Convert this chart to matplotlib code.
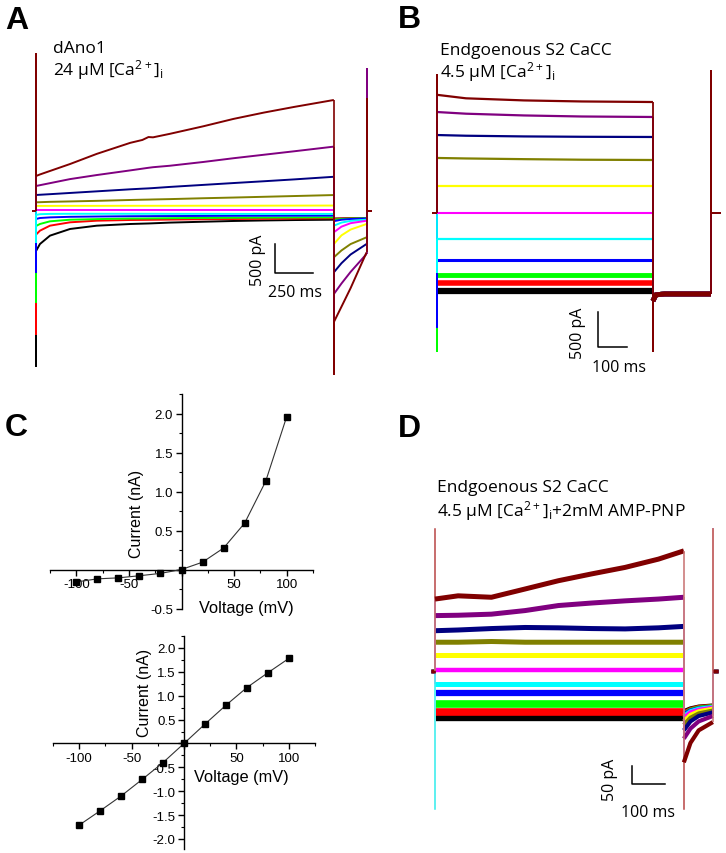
import matplotlib
matplotlib.use("Agg")
import matplotlib.pyplot as plt
from matplotlib.ticker import MultipleLocator, FixedLocator, FuncFormatter

plt.rcParams['mathtext.default'] = 'regular'

# ---------------- data ----------------
voltages = [-100, -80, -60, -40, -20, 0, 20, 40, 60, 80, 100]
trace_colors = ['#000000', '#ff0000', '#00ff00', '#0000ff', '#00ffff', '#ff00ff',
                '#ffff00', '#808000', '#000080', '#800080', '#800000']

# Panel A (dAno1, 24 uM Ca) : time in ms, current in pA
A_t_step = [0, 26, 92, 224, 400, 620, 700, 740, 770, 880, 1100, 1300, 1500, 1700, 1960]
A_i_step = [
    [-690, -569, -425, -310, -253, -224, -218, -215, -212, -200, -185, -172, -163, -156, -150],
    [-408, -339, -253, -195, -167, -155, -153, -152, -151, -148, -142, -138, -134, -130, -125],
    [-259, -224, -178, -150, -140, -130, -129, -128, -127, -124, -119, -116, -113, -111, -110],
    [-138, -121, -110, -100, -95, -90, -89, -89, -88, -87, -85, -83, -82, -81, -80],
    [-69, -55, -50, -48, -48, -48, -48, -48, -48, -49, -49, -50, -50, -50, -50],
    [17, 17, 17, 17, 17, 17, 17, 17, 17, 17, 17, 17, 17, 17, 17],
    [88, 88, 88, 89, 89, 90, 90, 90, 90, 90, 91, 91, 92, 93, 94],
    [150, 152, 158, 165, 175, 190, 195, 197, 199, 205, 220, 232, 245, 258, 275],
    [276, 280, 290, 311, 339, 374, 385, 390, 395, 415, 450, 482, 513, 545, 590],
    [431, 445, 480, 550, 620, 700, 730, 745, 755, 780, 845, 910, 970, 1030, 1110],
    [603, 630, 690, 810, 985, 1175, 1225, 1275, 1270, 1330, 1460, 1588, 1697, 1795, 1914],
]
A_t_tail = [0, 50, 110, 215]
A_i_tail = [
    [-130, -128, -125, -120],
    [-135, -130, -125, -120],
    [-150, -138, -130, -122],
    [-175, -150, -138, -128],
    [-253, -200, -170, -150],
    [-366, -270, -210, -168],
    [-569, -420, -320, -224],
    [-798, -680, -570, -454],
    [-1057, -900, -750, -569],
    [-1431, -1250, -1050, -741],
    [-1914, -1650, -1330, -714],
]
A_cap_on = [-2672, -2120, -1569, -1052, -534, 0, 500, 1000, 1500, 2100, 2707]
A_cap_off = [-150, -450, -750, -1050, -1350, -1650, -1950, -2200, -2450, -2650, -2810]
A_cap_tail = [2400, 2400, 2400, 2400, 2400, 2448, 2448, 2448, 2448, 2448, 1930]
A_t_pre, A_t_post = -26, 2211

# Panel B (endogenous S2 CaCC, 4.5 uM Ca)
B_t_step = [0, 100, 300, 500, 745]
B_i_step = [
    [-1116, -1116, -1116, -1116, -1116],
    [-1001, -1001, -1001, -1001, -1001],
    [-887, -887, -887, -887, -887],
    [-672, -672, -672, -672, -672],
    [-372, -372, -372, -372, -372],
    [0, 0, 0, 0, 0],
    [386, 386, 386, 386, 386],
    [787, 780, 770, 762, 758],
    [1115, 1105, 1095, 1090, 1087],
    [1444, 1420, 1395, 1380, 1373],
    [1690, 1640, 1610, 1595, 1587],
]
B_t_tail = [0, 10, 40, 200]
B_i_tail = [-1258, -1170, -1158, -1158]
B_cap_on = [-1000, -1000, -1973, -1630, -844, 0, 500, 900, 1300, 1700, 1973]
B_cap_off = [-1158, -1250, -1350, -1450, -1550, -1650, -1750, -1850, -1900, -1950, -1973]
B_cap_tail = [2030, 2030, 2030, 2030, 2030, 2030, 2030, 2030, 2030, 2030, 2030]
B_t_pre, B_t_post = -17, 979

# Panel D (endogenous S2 CaCC + AMP-PNP)
D_t_step = [0, 70, 171, 273, 374, 475, 576, 677, 754]
D_i_step = [
    [-129, -129, -129, -129, -129, -129, -129, -129, -129],
    [-115, -115, -115, -115, -115, -115, -115, -115, -115],
    [-92, -92, -92, -92, -92, -92, -92, -92, -92],
    [-62, -62, -62, -62, -62, -62, -62, -62, -62],
    [-36, -36, -36, -36, -36, -36, -36, -36, -36],
    [4, 4, 4, 4, 4, 4, 4, 4, 4],
    [44, 44, 44, 44, 44, 44, 44, 44, 44],
    [80, 80, 82, 80, 80, 80, 80, 80, 80],
    [112, 114, 118, 121, 120, 118, 117, 120, 124],
    [154, 155, 158, 168, 182, 189, 195, 200, 205],
    [200, 209, 205, 228, 251, 270, 288, 311, 334],
]
D_t_tail = [0, 20, 45, 88]
D_i_tail = [
    [-112, -104, -99, -96],
    [-115, -106, -100, -97],
    [-118, -108, -102, -98],
    [-120, -110, -104, -100],
    [-125, -112, -105, -100],
    [-130, -115, -108, -102],
    [-140, -122, -112, -105],
    [-150, -130, -118, -110],
    [-165, -140, -125, -115],
    [-188, -160, -140, -125],
    [-254, -200, -165, -142],
]
D_cap_on = [-250, -250, -250, -250, -384, 0, 300, 300, 300, 300, 395]
D_cap_off = [-110, -150, -200, -250, -300, -330, -350, -360, -370, -380, -384]
D_cap_tail = [395, 395, 395, 395, 395, 395, 395, 395, 395, 395, 395]
D_t_pre, D_t_post = -12, 858

# Panel C I-V curves
iv_voltage = [-100, -80, -60, -40, -20, 0, 20, 40, 60, 80, 100]
iv_dano1 = [-0.16, -0.12, -0.107, -0.08, -0.05, 0.0, 0.094, 0.275, 0.594, 1.13, 1.96]
iv_s2 = [-1.71, -1.41, -1.10, -0.755, -0.40, 0.0, 0.405, 0.80, 1.17, 1.48, 1.78]

# ---------------- figure ----------------
W, H = 726, 854
fig = plt.figure(figsize=(W / 100, H / 100), dpi=100)
TXT = 'Open Sans'
ARIAL = 'Liberation Sans'


def px_axes(left, top, right, bottom):
    return fig.add_axes([left / W, 1 - bottom / H, (right - left) / W, (bottom - top) / H])


def ftext(x, y, s, **kw):
    fig.text(x / W, 1 - y / H, s, **kw)


def trace_axes(box, x0, y0, ms_px, pa_px):
    l, t, r, b = box
    ax = px_axes(l, t, r, b)
    ax.set_xlim((l - x0) * ms_px, (r - x0) * ms_px)
    ax.set_ylim((y0 - b) * pa_px, (y0 - t) * pa_px)
    ax.axis('off')
    return ax


def draw_traces(ax, t_pre, t_step, i_steps, caps_on, caps_off, t_tail, i_tails,
                caps_tail, t_post, lw_body, lw_vert, tail_lw=None, hold_lw=1.4, vcolors=None):
    t_on, t_off = t_step[0], t_step[-1]
    for k in range(len(i_steps)):
        c = trace_colors[k]
        vc = vcolors[k] if vcolors else c
        i_step = i_steps[k]
        i_tail = i_tails[k] if isinstance(i_tails[0], list) else i_tails
        tt = [t_off + v for v in t_tail]
        t_end = tt[-1]
        lb = lw_body[k] if isinstance(lw_body, list) else lw_body
        tl = tail_lw[k] if isinstance(tail_lw, list) else (tail_lw if tail_lw else lb)
        kw_v = dict(color=vc, lw=lw_vert, solid_capstyle='butt')
        ax.plot([t_pre, t_on], [0, 0], color=c, lw=hold_lw, solid_capstyle='butt')
        ax.plot([t_on, t_on, t_on], [0, caps_on[k], i_step[0]], **kw_v)
        ax.plot(t_step, i_step, color=c, lw=lb, solid_capstyle='butt', solid_joinstyle='round')
        ax.plot([t_off, t_off, t_off], [i_step[-1], caps_off[k], i_tail[0]], **kw_v)
        ax.plot(tt, i_tail, color=c, lw=tl, solid_capstyle='butt')
        ax.plot([t_end, t_end, t_end], [i_tail[-1], caps_tail[k], 0], **kw_v)
        ax.plot([t_end, t_post], [0, 0], color=c, lw=hold_lw, solid_capstyle='butt')


def scale_bar(ax, t0, i0, dt, di, lab_v, lab_h, pv, ph):
    ax.plot([t0, t0, t0 + dt], [i0 + di, i0, i0], color='black', lw=1.1, clip_on=False)
    ax.text(pv[0], pv[1], lab_v, rotation=90, ha='center', va='center',
            fontsize=11.5, family=TXT)
    ax.text(ph[0], ph[1], lab_h, ha='center', va='center', fontsize=11.5, family=TXT)


# ---- Panel A ----
axA = trace_axes((28, 40, 378, 380), 36, 212, 6.58, 17.24)
draw_traces(axA, A_t_pre, A_t_step, A_i_step, A_cap_on, A_cap_off, A_t_tail, A_i_tail,
            A_cap_tail, A_t_post, 1.4, 1.2)
scale_bar(axA, 1573, -1069, 250, 500, '500 pA', '250 ms', (1461, -828), (1704, -1396))

# ---- Panel B ----
axB = trace_axes((425, 60, 726, 380), 437, 214, 3.45, 14.3)
B_lw = [4.5, 4.0, 3.5, 2.2, 1.6, 1.5, 1.6, 1.6, 1.6, 1.6, 1.6]
draw_traces(axB, B_t_pre, B_t_step, B_i_step, B_cap_on, B_cap_off, B_t_tail, B_i_tail,
            B_cap_tail, B_t_post, B_lw, 1.3, tail_lw=3.5)
scale_bar(axB, 555, -1916, 100, 500, '500 pA', '100 ms', (486, -1702), (628, -2202))

# ---- Panel D ----
axD = trace_axes((425, 520, 726, 830), 435, 672, 3.03, 2.78)
D_lw = [6.0, 5.5, 5.5, 4.5, 3.6, 3.2, 3.6, 3.6, 3.6, 3.6, 3.6]
D_vcolors = ['#808080', '#ff8080', '#80ff80', '#8080ff', '#60f0f0', '#ff80ff',
             '#ffff80', '#c0c080', '#8080c0', '#c080c0', '#c87070']
draw_traces(axD, D_t_pre, D_t_step, D_i_step, D_cap_on, D_cap_off, D_t_tail, D_i_tail,
            D_cap_tail, D_t_post, D_lw, 1.1, tail_lw=3.0, hold_lw=2.5, vcolors=D_vcolors)
scale_bar(axD, 597, -314, 100, 50, '50 pA', '100 ms', (530, -300), (645, -392))


# ---- Panel C ----
def iv_axes(box, ylim, yticks, y_minor, current):
    ax = px_axes(*box)
    ax.set_xlim(-125, 125)
    ax.set_ylim(*ylim)
    ax.patch.set_alpha(0)
    for s in ('top', 'right'):
        ax.spines[s].set_visible(False)
    ax.spines['left'].set_position(('data', 0))
    ax.spines['bottom'].set_position(('data', 0))
    for s in ('left', 'bottom'):
        ax.spines[s].set_linewidth(1.0)
    ax.xaxis.set_major_locator(FixedLocator([-100, -50, 0, 50, 100]))
    ax.xaxis.set_minor_locator(MultipleLocator(25))
    ax.yaxis.set_major_locator(FixedLocator(yticks))
    ax.yaxis.set_minor_locator(MultipleLocator(y_minor))
    ax.xaxis.set_major_formatter(FuncFormatter(lambda v, p: '' if v == 0 else '%d' % v))
    ax.yaxis.set_major_formatter(FuncFormatter(lambda v, p: '' if abs(v) < 1e-9 else '%.1f' % v))
    ax.tick_params(which='major', direction='out', length=4, width=1.0, labelsize=9.5, pad=2)
    ax.tick_params(which='minor', direction='out', length=2, width=0.8)
    for lab in ax.get_xticklabels() + ax.get_yticklabels():
        lab.set_family(ARIAL)
    ax.plot(iv_voltage, current, color='#333333', lw=0.8, marker='s', markersize=4.5,
            markerfacecolor='black', markeredgecolor='black', clip_on=False, zorder=3)
    return ax


iv_axes((50, 395, 313, 609.5), (-0.5, 2.25), [-0.5, 0, 0.5, 1.0, 1.5, 2.0], 0.25, iv_dano1)
iv_axes((53, 637, 315, 849.5), (-2.2, 2.25),
        [-2.0, -1.5, -1.0, -0.5, 0, 0.5, 1.0, 1.5, 2.0], 0.25, iv_s2)

ftext(137, 514, 'Current (nA)', rotation=90, ha='center', va='center', fontsize=11.5, family=ARIAL)
ftext(246, 608, 'Voltage (mV)', ha='center', va='center', fontsize=11.8, family=ARIAL)
ftext(144, 693, 'Current (nA)', rotation=90, ha='center', va='center', fontsize=11.5, family=ARIAL)
ftext(241, 778, 'Voltage (mV)', ha='center', va='center', fontsize=11.8, family=ARIAL)

# ---- panel letters & annotations ----
for lx, ly, s in [(5, 29, 'A'), (398, 28, 'B'), (5, 436, 'C'), (398, 437, 'D')]:
    ftext(lx, ly, s, ha='left', va='baseline', fontsize=23, weight='bold', family=ARIAL)

FS = 12.5
ftext(53, 53, 'dAno1', ha='left', va='baseline', fontsize=FS, family=TXT)
ftext(53, 75, r'24 µM [Ca$^{2+}$]$_{i}$', ha='left', va='baseline', fontsize=FS, family=TXT)
ftext(440, 55, 'Endgoenous S2 CaCC', ha='left', va='baseline', fontsize=FS, family=TXT)
ftext(440, 77, r'4.5 µM [Ca$^{2+}$]$_{i}$', ha='left', va='baseline', fontsize=FS, family=TXT)
ftext(437, 492, 'Endgoenous S2 CaCC', ha='left', va='baseline', fontsize=FS, family=TXT)
ftext(437, 516, r'4.5 µM [Ca$^{2+}$]$_{i}$+2mM AMP-PNP', ha='left', va='baseline',
      fontsize=FS, family=TXT)

fig.savefig('out.png', dpi=100)
